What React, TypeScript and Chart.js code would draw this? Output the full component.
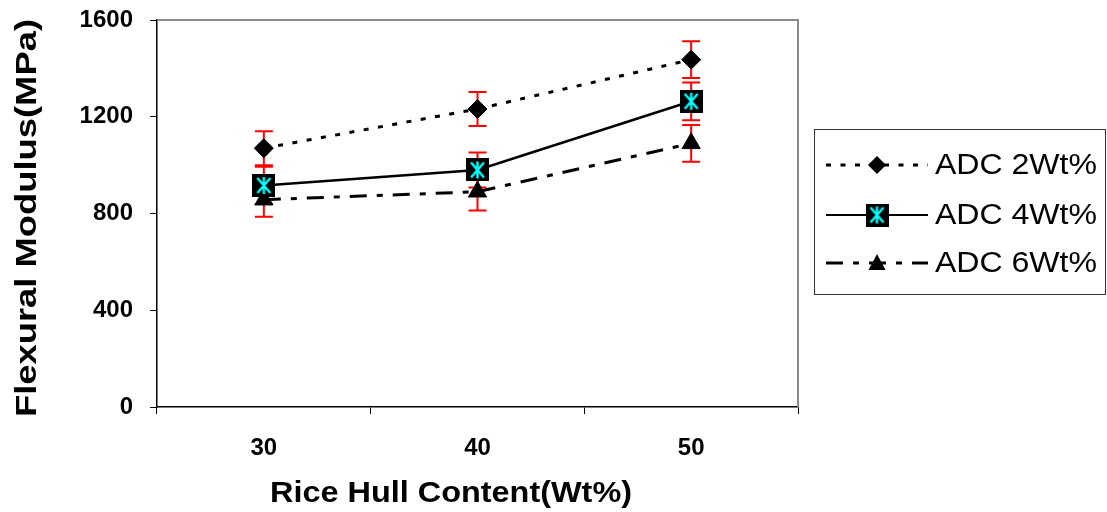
import { useEffect, useRef } from "react";
import { Chart, registerables } from "chart.js";

Chart.register(...registerables);

// Rice hull content on the x axis (Wt%)
const categories = ["30", "40", "50"];
// Flexural modulus means and their error half-widths (MPa)
const adc2 = [1070, 1232, 1436];
const adc2Err = [70, 70, 76];
const adc4 = [916, 980, 1264];
const adc4Err = [77, 72, 78];
const adc6 = [857, 890, 1090];
const adc6Err = [70, 78, 76];
const seriesLabels = ["ADC 2Wt%", "ADC 4Wt%", "ADC 6Wt%"];
const yMin = 0;
const yMax = 1600;
const yStep = 400;
const xTitle = "Rice Hull Content(Wt%)";
const yTitle = "Flexural Modulus(MPa)";

const FONT = "'Liberation Sans', Arial, sans-serif";

const DOTTED = [5, 9.5];
const DASH_DOT = [17, 10, 6, 10];

// black square with a cyan asterisk, used for the 4 Wt% series
function makeStarSquare(size: number): HTMLCanvasElement {
  const c = document.createElement("canvas");
  c.width = size;
  c.height = size;
  const g = c.getContext("2d")!;
  g.fillStyle = "#000";
  g.fillRect(0, 0, size, size);
  g.strokeStyle = "#00ffff";
  g.lineWidth = 2.4;
  g.lineCap = "butt";
  const m = size / 2;
  const i = 4;
  g.beginPath();
  g.moveTo(m, i - 1);
  g.lineTo(m, size - i + 1);
  g.moveTo(i + 1, i);
  g.lineTo(size - i - 1, size - i);
  g.moveTo(size - i - 1, i);
  g.lineTo(i + 1, size - i);
  g.stroke();
  return c;
}

function drawStretched(
  ctx: CanvasRenderingContext2D,
  text: string,
  x: number,
  y: number,
  font: string,
  targetWidth: number | null,
  align: "left" | "center"
) {
  ctx.save();
  ctx.font = font;
  ctx.textBaseline = "middle";
  ctx.textAlign = "left";
  const w = ctx.measureText(text).width;
  const sx = targetWidth ? targetWidth / w : 1;
  ctx.translate(x, y);
  ctx.scale(sx, 1);
  ctx.fillText(text, align === "center" ? -w / 2 : 0, 0);
  ctx.restore();
}

export default function App() {
  const ref = useRef<HTMLCanvasElement | null>(null);

  useEffect(() => {
    const canvas = ref.current;
    if (!canvas) return;
    const starSquare = makeStarSquare(23);

    const errorSets = [adc2Err, adc4Err, adc6Err];

    const background = {
      id: "background",
      beforeDraw(chart: any) {
        const ctx = chart.ctx;
        ctx.save();
        ctx.fillStyle = "#fff";
        ctx.fillRect(0, 0, chart.width, chart.height);
        ctx.restore();
      },
    };

    const frameAndErrors = {
      id: "frameAndErrors",
      beforeDatasetsDraw(chart: any) {
        const ctx = chart.ctx;
        const { top, right, left, bottom } = chart.chartArea;
        ctx.save();
        // grey frame on the top and right of the plot area
        ctx.strokeStyle = "#8c8c8c";
        ctx.lineWidth = 2;
        ctx.beginPath();
        ctx.moveTo(left, top);
        ctx.lineTo(right, top);
        ctx.lineTo(right, bottom);
        ctx.stroke();

        // red error bars
        const xs = chart.scales.x;
        const ys = chart.scales.y;
        ctx.strokeStyle = "#ff0000";
        ctx.lineWidth = 2;
        chart.data.datasets.forEach((ds: any, di: number) => {
          ds.data.forEach((v: number, i: number) => {
            const e = errorSets[di][i];
            const px = xs.getPixelForValue(i);
            const y1 = ys.getPixelForValue(v + e);
            const y2 = ys.getPixelForValue(v - e);
            ctx.beginPath();
            ctx.moveTo(px, y1);
            ctx.lineTo(px, y2);
            ctx.moveTo(px - 9, y1);
            ctx.lineTo(px + 9, y1);
            ctx.moveTo(px - 9, y2);
            ctx.lineTo(px + 9, y2);
            ctx.stroke();
          });
        });
        ctx.restore();
      },
    };

    const titlesAndLegend = {
      id: "titlesAndLegend",
      afterDraw(chart: any) {
        const ctx = chart.ctx as CanvasRenderingContext2D;
        ctx.save();
        ctx.fillStyle = "#000";
        // axis titles
        drawStretched(ctx, xTitle, 451, 494, `bold 30px ${FONT}`, 362, "center");
        ctx.save();
        ctx.translate(28, 218);
        ctx.rotate(-Math.PI / 2);
        drawStretched(ctx, yTitle, 0, 0, `bold 30px ${FONT}`, 398, "center");
        ctx.restore();

        // legend box
        ctx.strokeStyle = "#333";
        ctx.lineWidth = 1;
        ctx.strokeRect(814.5, 129.5, 291, 165);

        const rows = [165, 215, 263];
        const x0 = 826;
        const x1 = 928;
        const mx = 877;
        const dashes = [DOTTED, [], DASH_DOT];
        const widths = [3, 2, 3];
        rows.forEach((ry, k) => {
          ctx.save();
          ctx.strokeStyle = "#000";
          ctx.lineWidth = widths[k];
          ctx.setLineDash(dashes[k]);
          ctx.beginPath();
          ctx.moveTo(x0, ry);
          ctx.lineTo(x1, ry);
          ctx.stroke();
          ctx.restore();
          ctx.fillStyle = "#000";
          if (k === 0) {
            ctx.beginPath();
            ctx.moveTo(mx, ry - 9);
            ctx.lineTo(mx + 9, ry);
            ctx.lineTo(mx, ry + 9);
            ctx.lineTo(mx - 9, ry);
            ctx.closePath();
            ctx.fill();
          } else if (k === 1) {
            ctx.drawImage(starSquare, mx - 11.5, ry - 11.5);
          } else {
            ctx.beginPath();
            ctx.moveTo(mx, ry - 9);
            ctx.lineTo(mx + 8.5, ry + 7);
            ctx.lineTo(mx - 8.5, ry + 7);
            ctx.closePath();
            ctx.fill();
          }
          ctx.fillStyle = "#000";
          drawStretched(ctx, seriesLabels[k], 935, ry + 1, `30px ${FONT}`, 162, "left");
        });
        ctx.restore();
      },
    };

    const chart = new Chart(canvas, {
      type: "line",
      data: {
        labels: categories,
        datasets: [
          {
            label: seriesLabels[0],
            data: adc2,
            borderColor: "#000",
            borderWidth: 3,
            borderDash: DOTTED,
            pointStyle: "rectRot",
            pointRadius: 9.5,
            pointBackgroundColor: "#000",
            pointBorderColor: "#000",
            pointBorderWidth: 1,
            tension: 0,
          },
          {
            label: seriesLabels[1],
            data: adc4,
            borderColor: "#000",
            borderWidth: 2.6,
            pointStyle: starSquare as any,
            pointRadius: 12,
            tension: 0,
          },
          {
            label: seriesLabels[2],
            data: adc6,
            borderColor: "#000",
            borderWidth: 3,
            borderDash: DASH_DOT,
            pointStyle: "triangle",
            pointRadius: 10.5,
            pointBackgroundColor: "#000",
            pointBorderColor: "#000",
            pointBorderWidth: 1,
            tension: 0,
          },
        ],
      },
      options: {
        responsive: false,
        animation: false,
        events: [],
        layout: { padding: { top: 20, right: 309, left: 0, bottom: 0 } },
        plugins: {
          legend: { display: false },
          tooltip: { enabled: false },
          title: { display: false },
        },
        scales: {
          x: {
            type: "category",
            offset: true,
            grid: {
              offset: true,
              drawOnChartArea: false,
              drawTicks: true,
              tickLength: 7,
              color: "#000",
              lineWidth: 1,
            },
            border: { display: true, color: "#000", width: 1.5 },
            ticks: {
              color: "#000",
              padding: 20,
              font: { family: FONT, size: 24, weight: "bold" },
              maxRotation: 0,
            },
            afterFit(scale: any) {
              scale.height = 105;
              scale.paddingLeft = 0;
              scale.paddingRight = 0;
            },
          },
          y: {
            min: yMin,
            max: yMax,
            grid: {
              drawOnChartArea: false,
              drawTicks: true,
              tickLength: 7,
              color: "#000",
              lineWidth: 1,
            },
            border: { display: true, color: "#000", width: 1.5 },
            ticks: {
              stepSize: yStep,
              color: "#000",
              padding: 17,
              font: { family: FONT, size: 24, weight: "bold" },
              callback: (v: any) => String(v),
            },
            afterFit(scale: any) {
              scale.width = 157;
              scale.paddingTop = 0;
              scale.paddingBottom = 0;
            },
          },
        },
      },
      plugins: [background, frameAndErrors, titlesAndLegend],
    });

    return () => chart.destroy();
  }, []);

  return (
    <div style={{ position: "absolute", left: 0, top: 0, width: 1107, height: 512 }}>
      <canvas ref={ref} width={1107} height={512} style={{ display: "block" }} />
    </div>
  );
}
